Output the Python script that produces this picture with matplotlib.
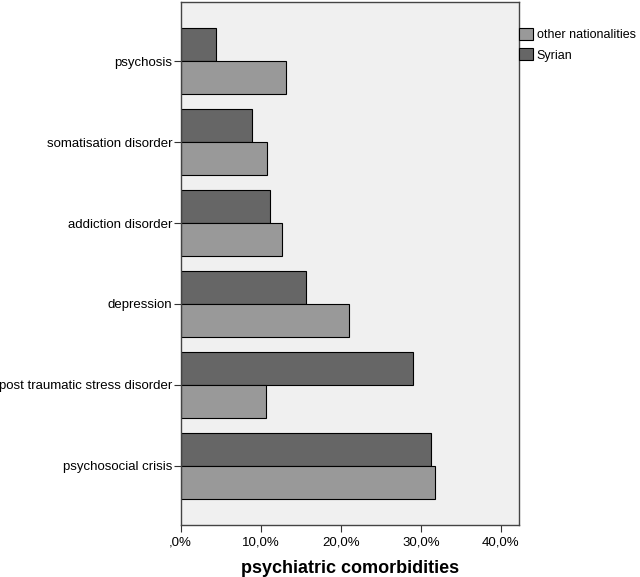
from matplotlib import pyplot as plt
from matplotlib.ticker import FuncFormatter
import numpy as np

plt.rcParams['font.family'] = ['Liberation Sans', 'DejaVu Sans']

# data (percent), top to bottom
categories = ['psychosis', 'somatisation disorder', 'addiction disorder',
              'depression', 'post traumatic stress disorder', 'psychosocial crisis']
syrian = [4.4, 8.9, 11.1, 15.6, 29.0, 31.2]
other = [13.2, 10.8, 12.6, 21.0, 10.7, 31.8]

fig = plt.figure(figsize=(6.4, 5.77), dpi=100)
ax = fig.add_axes([0.2823, 0.0901, 0.528, 0.9064])
ax.set_facecolor('#f0f0f0')

y = np.arange(len(categories))
h = 0.41
ax.barh(y - h / 2, syrian, height=h, color='#666666', edgecolor='black',
        linewidth=0.8, label='Syrian')
ax.barh(y + h / 2, other, height=h, color='#999999', edgecolor='black',
        linewidth=0.8, label='other nationalities')

ax.set_ylim(len(categories) - 1 + 0.733, -0.733)
ax.set_xlim(0, 42.2)
ax.set_yticks(y)
ax.set_yticklabels(categories, fontsize=9.5)
ax.set_xticks([0, 10, 20, 30, 40])
ax.xaxis.set_major_formatter(FuncFormatter(
    lambda v, p: ',0%' if v == 0 else f'{v:.1f}%'.replace('.', ',')))
ax.tick_params(axis='x', labelsize=9.5, length=5, color='#333333')
ax.tick_params(axis='y', length=5, color='#333333', pad=1)
ax.set_xlabel('psychiatric comorbidities', fontsize=13, fontweight='bold',
              labelpad=8)
for s in ax.spines.values():
    s.set_color('#444444')
    s.set_linewidth(1.0)

handles, labels = ax.get_legend_handles_labels()
ax.legend(handles[::-1], labels[::-1], loc='upper left',
          bbox_to_anchor=(0.995, 0.956), frameon=False, fontsize=9,
          handlelength=1.1, handleheight=1.1, handletextpad=0.3,
          labelspacing=0.6, borderaxespad=0.0, borderpad=0.2)

plt.savefig('out.png')
